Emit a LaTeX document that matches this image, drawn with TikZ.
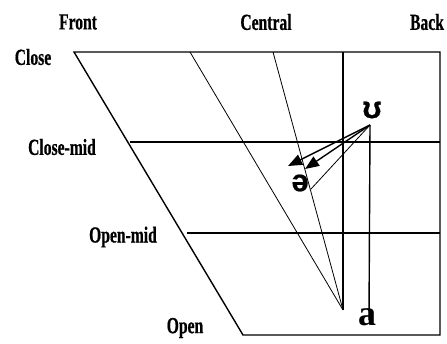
\documentclass[tikz,border=0pt]{standalone}
\usepackage{fontspec}
\setmainfont{Liberation Serif}
\newfontfamily\labfont[FakeStretch=0.68,FakeBold=0.6]{Liberation Serif}
\newfontfamily\ipafont[FakeBold=0.6]{Liberation Sans}
\newfontfamily\vowfont{Liberation Serif}
\usetikzlibrary{arrows.meta}
\begin{document}
\begin{tikzpicture}[x=1pt,y=-1pt,
  lab/.style={inner sep=0pt,font=\labfont\bfseries\fontsize{23}{23}\selectfont},
  ipa/.style={inner sep=0pt,font=\ipafont\bfseries\fontsize{31}{31}\selectfont},
  vow/.style={inner sep=0pt,font=\vowfont\bfseries\fontsize{36}{36}\selectfont},
  frame/.style={line width=1.4pt},
  thin/.style={line width=0.8pt},
  arr/.style={line width=1.4pt,-{Triangle[length=14pt,width=11pt]}}]
\useasboundingbox (0,0) rectangle (447,343);
% vertices
\coordinate (TL) at (74,52);
\coordinate (TR) at (440,52);
\coordinate (BR) at (440,335);
\coordinate (BL) at (243,335);
\coordinate (T1) at (190,52);
\coordinate (T2) at (273,52);
\coordinate (T3) at (343,52);
\coordinate (C) at (343,310);
\coordinate (CM1) at (130,142);
\coordinate (CM2) at (440,142);
\coordinate (OM1) at (187,233);
\coordinate (OM2) at (440,233);
\coordinate (U) at (370,125);
\coordinate (V2) at (369,320);
\coordinate (A1) at (288,166);
\coordinate (A2) at (305,169);
\coordinate (S) at (311,189);
% frame
\draw[frame] (TL) -- (TR) -- (BR) -- (BL) -- cycle;
\draw[frame] (CM1) -- (CM2);
\draw[frame] (OM1) -- (OM2);
\draw[frame] (T3) -- (C);
\draw[thin] (T1) -- (C);
\draw[thin] (T2) -- (C);
\draw[frame] (U) -- (V2);
% arrows
\draw[arr] (U) -- (A1);
\draw[arr] (U) -- (A2);
\draw[thin] (U) -- (S);
% labels
\node[lab] (front) at (78,22) {Front};
\node[lab] (central) at (266,22) {Central};
\node[lab] (back) at (427,22) {Back};
\node[lab] (close) at (33,57) {Close};
\node[lab] (closemid) at (62,147) {Close-mid};
\node[lab] (openmid) at (123,237) {Open-mid};
\node[lab] (open) at (185,328) {Open};
\node[ipa] (u) at (372,110) {ʊ};
\node[ipa] (schwa) at (300,183) {ə};
\node[vow] (a) at (367,317) {a};
\end{tikzpicture}
\end{document}
